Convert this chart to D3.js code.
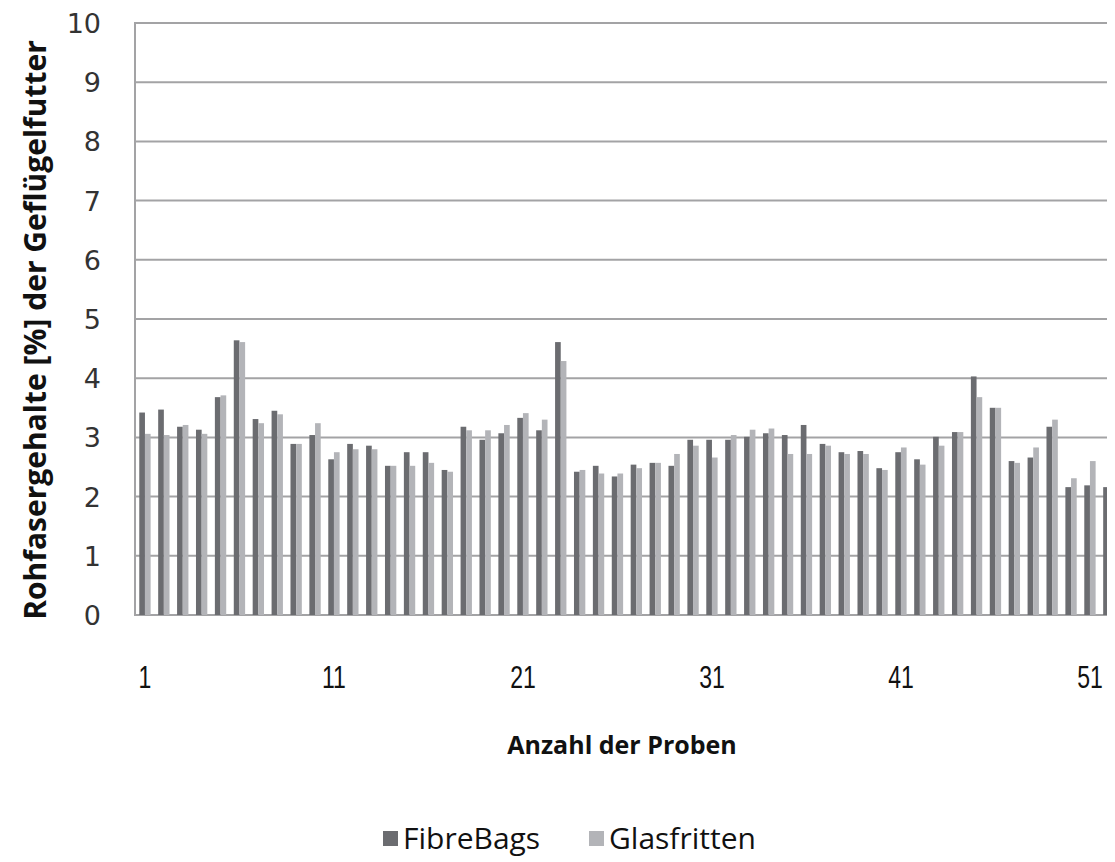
<!DOCTYPE html>
<html>
<head>
<meta charset="utf-8">
<script src="https://cdn.jsdelivr.net/npm/d3@7"></script>
<style>
  body { margin: 0; background: #fff; }
  svg { display: block; }
</style>
</head>
<body>
<svg id="chart" width="1115" height="862"></svg>
<script>
// sample numbers 1..52 (52 is cut off at the right edge of the original)
const samples = d3.range(1, 53)
const fibreBags = [3.42, 3.47, 3.18, 3.13, 3.68, 4.64, 3.31, 3.45, 2.89, 3.04,
    2.63, 2.89, 2.86, 2.52, 2.75, 2.75, 2.45, 3.18, 2.96, 3.07,
    3.33, 3.12, 4.61, 2.42, 2.52, 2.34, 2.54, 2.57, 2.52, 2.96,
    2.96, 2.96, 3.01, 3.07, 3.04, 3.21, 2.89, 2.75, 2.77, 2.48,
    2.75, 2.63, 3.01, 3.09, 4.03, 3.50, 2.60, 2.66, 3.18, 2.16,
    2.19, 2.16]
const glasfritten = [3.06, 3.04, 3.21, 3.06, 3.71, 4.61, 3.24, 3.39, 2.89, 3.24,
    2.75, 2.80, 2.80, 2.52, 2.52, 2.57, 2.42, 3.12, 3.12, 3.21,
    3.41, 3.30, 4.29, 2.45, 2.39, 2.39, 2.48, 2.57, 2.72, 2.86,
    2.66, 3.04, 3.13, 3.15, 2.72, 2.72, 2.86, 2.72, 2.72, 2.45,
    2.83, 2.54, 2.86, 3.09, 3.68, 3.50, 2.57, 2.83, 3.30, 2.31,
    2.60, null]
const yTicks = d3.range(0, 11)
const xTickLabels = [1, 11, 21, 31, 41, 51]
const seriesNames = ['FibreBags', 'Glasfritten']

const colors = { FibreBags: '#6b6c70', Glasfritten: '#b3b4b8' }

const svg = d3.select('#chart')
const margin = { left: 135, top: 23, right: 1107, bottom: 615 }
const step = 18.9

const x = d3.scaleBand()
    .domain(samples)
    .range([margin.left + 0.5, margin.left + 0.5 + step * samples.length])
    .paddingInner(0.4)
    .paddingOuter(0.2)

const xSub = d3.scaleBand()
    .domain(seriesNames)
    .range([0, x.bandwidth()])

const y = d3.scaleLinear()
    .domain([0, 10])
    .range([margin.bottom, margin.top])

svg.append('defs').append('clipPath').attr('id', 'plotclip')
    .append('rect')
    .attr('x', margin.left).attr('y', 0)
    .attr('width', margin.right - margin.left).attr('height', margin.bottom + 2)

// gridlines
svg.append('g')
    .selectAll('line')
    .data(yTicks)
    .join('line')
        .attr('x1', margin.left)
        .attr('x2', margin.right)
        .attr('y1', d => y(d))
        .attr('y2', d => y(d))
        .attr('stroke', '#a3a3a5')
        .attr('stroke-width', 2)

svg.append('line')
    .attr('x1', margin.left).attr('x2', margin.left)
    .attr('y1', margin.top - 1).attr('y2', margin.bottom + 1)
    .attr('stroke', '#a3a3a5')
    .attr('stroke-width', 2)

const rows = samples.map((s, i) => ({ sample: s, values: [
    { key: 'FibreBags', value: fibreBags[i] },
    { key: 'Glasfritten', value: glasfritten[i] }
] }))

svg.append('g')
    .attr('clip-path', 'url(#plotclip)')
    .selectAll('g')
    .data(rows)
    .join('g')
        .attr('transform', d => `translate(${x(d.sample)},0)`)
    .selectAll('rect')
    .data(d => d.values.filter(v => v.value != null))
    .join('rect')
        .attr('x', d => xSub(d.key))
        .attr('width', xSub.bandwidth())
        .attr('y', d => y(d.value))
        .attr('height', d => y(0) - y(d.value))
        .attr('fill', d => colors[d.key])

// y tick labels
svg.append('g')
    .selectAll('text')
    .data(yTicks)
    .join('text')
        .attr('x', 101)
        .attr('y', d => y(d) + 10)
        .attr('text-anchor', 'end')
        .attr('font-family', 'DejaVu Sans, sans-serif')
        .attr('font-size', 27)
        .attr('fill', '#333')
        .text(d => d)

// x tick labels
svg.append('g')
    .selectAll('text')
    .data(xTickLabels)
    .join('text')
        .attr('transform', d => `translate(${x(d) + x.bandwidth() / 2},688) scale(0.72,1)`)
        .attr('text-anchor', 'middle')
        .attr('font-family', 'Liberation Sans, sans-serif')
        .attr('font-size', 32)
        .attr('fill', '#111')
        .text(d => d)

// axis titles
svg.append('text')
    .attr('transform', `translate(46,330) rotate(-90)`)
    .attr('text-anchor', 'middle')
    .attr('font-family', 'Open Sans, sans-serif')
    .attr('font-weight', 'bold')
    .attr('font-size', 30)
    .attr('fill', '#111')
    .text('Rohfasergehalte [%] der Geflügelfutter')

svg.append('text')
    .attr('x', 622)
    .attr('y', 754)
    .attr('text-anchor', 'middle')
    .attr('font-family', 'Open Sans, sans-serif')
    .attr('font-weight', 'bold')
    .attr('font-size', 25)
    .attr('fill', '#111')
    .text('Anzahl der Proben')

// legend
const legend = svg.append('g')
    .selectAll('g')
    .data(seriesNames)
    .join('g')
        .attr('transform', (d, i) => `translate(${i === 0 ? 383 : 589},0)`)
legend.append('rect')
    .attr('x', 0).attr('y', 831)
    .attr('width', 15).attr('height', 15)
    .attr('fill', d => colors[d])
legend.append('text')
    .attr('x', 20).attr('y', 849)
    .attr('font-family', 'Open Sans, sans-serif')
    .attr('font-size', 30)
    .attr('fill', '#111')
    .text(d => d)
</script>
</body>
</html>
